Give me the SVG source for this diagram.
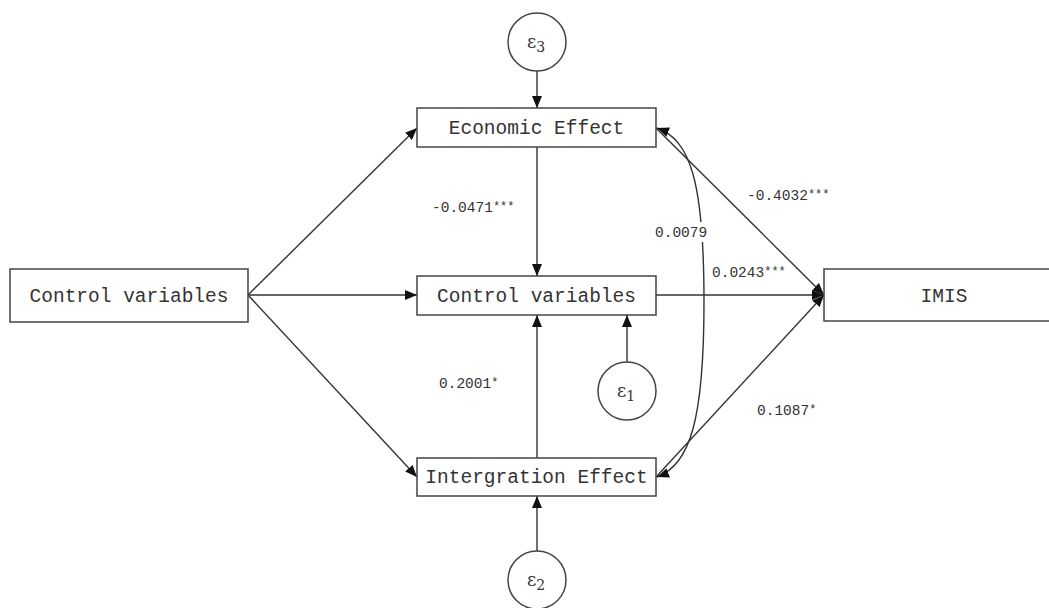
<svg xmlns="http://www.w3.org/2000/svg" width="1049" height="608" viewBox="0 0 1049 608">
<style>
.box{fill:#fff;stroke:#444;stroke-width:1.5}
.circ{fill:#fff;stroke:#444;stroke-width:1.5}
.lbl{font-family:"Liberation Mono",monospace;font-size:19.5px;fill:#333;text-anchor:middle}
.num{font-family:"Liberation Mono",monospace;font-size:14.5px;fill:#333}
.star{font-size:12px}
.eps{font-family:"DejaVu Serif","Liberation Serif",serif;font-size:18px;fill:#333}
.sub{font-size:14px}
.conn{fill:none;stroke:#333;stroke-width:1.4}
</style>
<defs>
<marker id="ah" viewBox="0 0 12 10" refX="12" refY="5" markerWidth="12" markerHeight="10" markerUnits="userSpaceOnUse" orient="auto-start-reverse">
<path d="M0,0 L12,5 L0,10 Z" fill="#111"/>
</marker>
</defs>
<rect width="1049" height="608" fill="#fff"/>
<g id="connectors">
<line class="conn" x1="248" y1="295" x2="417" y2="128" marker-end="url(#ah)"/>
<line class="conn" x1="248" y1="295" x2="417" y2="295" marker-end="url(#ah)"/>
<line class="conn" x1="248" y1="295" x2="417" y2="477" marker-end="url(#ah)"/>
<line class="conn" x1="537" y1="71" x2="537" y2="108" marker-end="url(#ah)"/>
<line class="conn" x1="537" y1="147" x2="537" y2="276" marker-end="url(#ah)"/>
<line class="conn" x1="537" y1="458" x2="537" y2="315" marker-end="url(#ah)"/>
<line class="conn" x1="627" y1="362" x2="627" y2="315" marker-end="url(#ah)"/>
<line class="conn" x1="537" y1="551" x2="537" y2="496" marker-end="url(#ah)"/>
<line class="conn" x1="656" y1="128" x2="824" y2="295" marker-end="url(#ah)"/>
<line class="conn" x1="656" y1="295" x2="824" y2="295" marker-end="url(#ah)"/>
<line class="conn" x1="656" y1="477" x2="824" y2="295" marker-end="url(#ah)"/>
<path class="conn" d="M657,128 C690,140 704,180 704,302 C704,420 690,465 657,477" marker-start="url(#ah)" marker-end="url(#ah)"/>
</g>
<g id="node-control-left"><rect class="box" x="10" y="269" width="238" height="53"/><text class="lbl" x="129" y="302">Control variables</text></g>
<g id="node-economic"><rect class="box" x="417" y="108" width="239" height="39"/><text class="lbl" x="536.5" y="134">Economic Effect</text></g>
<g id="node-control-mid"><rect class="box" x="417" y="276" width="239" height="39"/><text class="lbl" x="536.5" y="302">Control variables</text></g>
<g id="node-integration"><rect class="box" x="417" y="458" width="239" height="38"/><text class="lbl" x="536.5" y="483">Intergration Effect</text></g>
<g id="node-imis"><rect class="box" x="824" y="269" width="240" height="52"/><text class="lbl" x="944" y="302">IMIS</text></g>
<g id="node-e3"><circle class="circ" cx="537" cy="42" r="29"/><text class="eps" x="527" y="48">ε<tspan class="sub" dy="4">3</tspan></text></g>
<g id="node-e1"><circle class="circ" cx="627" cy="391" r="29"/><text class="eps" x="617" y="397">ε<tspan class="sub" dy="4">1</tspan></text></g>
<g id="node-e2"><circle class="circ" cx="537" cy="580" r="29"/><text class="eps" x="527" y="586">ε<tspan class="sub" dy="4">2</tspan></text></g>
<g id="labels">
<text class="num" x="432" y="212">-0.0471<tspan class="star" dy="-2">***</tspan></text>
<rect x="654" y="222" width="56" height="20" fill="#fff"/>
<text class="num" x="655" y="237">0.0079</text>
<text class="num" x="747" y="200">-0.4032<tspan class="star" dy="-2">***</tspan></text>
<text class="num" x="712" y="277">0.0243<tspan class="star" dy="-2">***</tspan></text>
<text class="num" x="439" y="388">0.2001<tspan class="star" dy="-2">*</tspan></text>
<text class="num" x="757" y="415">0.1087<tspan class="star" dy="-2">*</tspan></text>
</g>
</svg>
